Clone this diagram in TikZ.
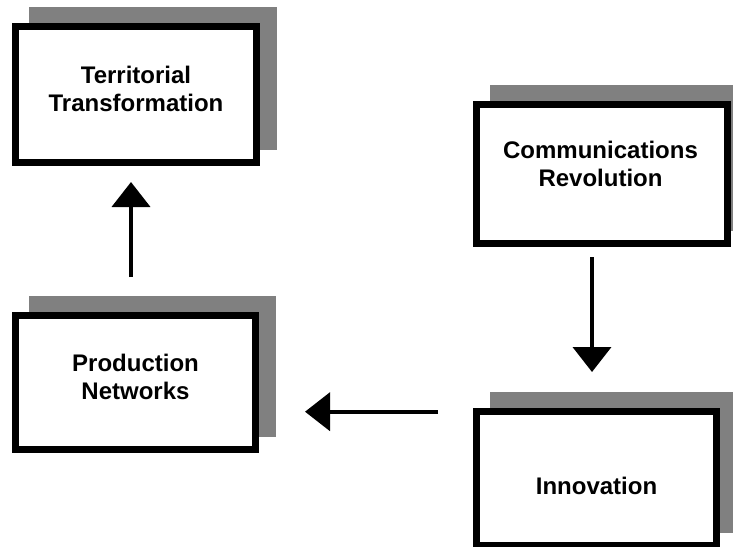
\documentclass[tikz,border=0pt]{standalone}
\usepackage{fontspec}
\setmainfont{Liberation Sans}
\usetikzlibrary{arrows.meta,backgrounds}
\definecolor{shadowgray}{RGB}{128,128,128}
\tikzset{
  framebox/.style={draw=black, fill=white, line width=7pt, rectangle, inner sep=0pt},
  boxtext/.style={inner sep=0pt, align=center, font=\bfseries\fontsize{24pt}{28pt}\selectfont},
  flow/.style={line width=4pt, -{Triangle[length=25pt,width=38pt]}},
  boxshadow/.style={fill=shadowgray}
}
\begin{document}
\begin{tikzpicture}
  \useasboundingbox (0,0) rectangle (733pt,-546pt);
  \clip (0,0) rectangle (733pt,-546pt);

  % framed boxes
  \node[framebox, minimum width=241pt, minimum height=136pt] (b1) at (136pt,-94.5pt) {};
  \node[framebox, minimum width=251pt, minimum height=139pt] (b2) at (602pt,-174pt) {};
  \node[framebox, minimum width=240pt, minimum height=134pt] (b3) at (135.5pt,-382.5pt) {};
  \node[framebox, minimum width=240pt, minimum height=134pt] (b4) at (596.5pt,-478.5pt) {};

  % offset gray shadows behind each box
  \begin{scope}[on background layer]
    \foreach \b in {b1,b2,b3,b4}
      \fill[boxshadow] ([shift={(17pt,16pt)}]\b.south west) rectangle ([shift={(17pt,16pt)}]\b.north east);
  \end{scope}

  % labels
  \node[boxtext] (t1) at ([yshift=5.5pt]b1.center) {Territorial\\Transformation};
  \node[boxtext] (t2) at ([xshift=-1.5pt,yshift=10pt]b2.center) {Communications\\Revolution};
  \node[boxtext] (t3) at ([yshift=6pt]b3.center) {Production\\Networks};
  \node[boxtext] (t4) at ([yshift=-7pt]b4.center) {Innovation};

  % connectors
  \draw[flow, shorten <=35pt, shorten >=16pt]
    ([xshift=-4.5pt]b3.north) -- ([xshift=-4.5pt]b3.north |- b1.south);
  \draw[flow, shorten <=10pt, shorten >=36pt]
    ([xshift=-10pt]b2.south) -- ([xshift=-10pt]b2.south |- b4.north);
  \draw[flow, shorten <=35pt, shorten >=46pt]
    ([yshift=-3.7pt]b4.north west) -- ([yshift=-3.7pt]b4.north west -| b3.east);
\end{tikzpicture}
\end{document}
